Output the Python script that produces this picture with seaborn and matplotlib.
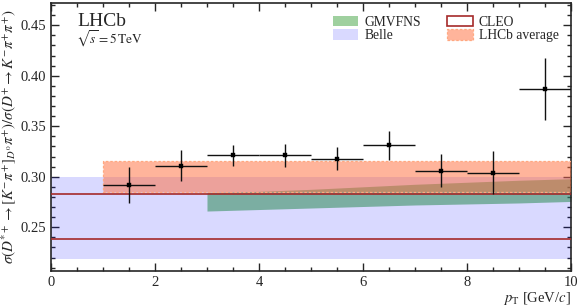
import matplotlib
matplotlib.use("Agg")
import matplotlib.pyplot as plt
import matplotlib.patches as mpatches
from matplotlib.ticker import MultipleLocator
import numpy as np
import pandas as pd
import seaborn as sns

# LHCb measurement, pT bins of 1 GeV/c
pt_lo = [1, 2, 3, 4, 5, 6, 7, 8, 9]
pt_hi = [2, 3, 4, 5, 6, 7, 8, 9, 10]
ratio = [0.292, 0.311, 0.321, 0.321, 0.318, 0.331, 0.306, 0.304, 0.387]
ratio_err = [0.018, 0.015, 0.010, 0.011, 0.011, 0.014, 0.016, 0.021, 0.031]

# GMVFNS prediction band
gm_pt = [3, 4, 5, 6, 7, 8, 9, 10]
gm_lo = [0.266, 0.2675, 0.269, 0.2705, 0.272, 0.273, 0.274, 0.2755]
gm_hi = [0.2845, 0.2855, 0.2875, 0.290, 0.2925, 0.2945, 0.2965, 0.298]

# other measurements
belle = (0.219, 0.300)
cleo = (0.2384, 0.2828)
lhcb_avg = (0.2848, 0.3159)

df = pd.DataFrame({'pt': [(a + b) / 2 for a, b in zip(pt_lo, pt_hi)],
                   'ratio': ratio, 'err': ratio_err})

sns.set_theme(style='ticks')
plt.rcParams['font.family'] = ['Liberation Serif', 'DejaVu Serif']
plt.rcParams['mathtext.fontset'] = 'stix'
plt.rcParams['xtick.direction'] = 'in'
plt.rcParams['ytick.direction'] = 'in'

fig = plt.figure(figsize=(5.82, 3.08), dpi=100)
ax = fig.add_axes([0.0876, 0.12, 0.8935, 0.869])

avg_face = (1.0, 0.42, 0.22, 0.5)
avg_edge = '#ffa880'

# Belle
ax.fill_between([0, 10], belle[0], belle[1], color='blue', alpha=0.15, lw=0, zorder=1)
# GMVFNS
ax.fill_between(gm_pt, gm_lo, gm_hi, color='#2e8b57', alpha=0.55, lw=0, zorder=2)
# LHCb average
ax.fill_between([1, 10], lhcb_avg[0], lhcb_avg[1], facecolor=avg_face,
                edgecolor=avg_edge, linestyle=(0, (2, 1.5)), lw=0.9, zorder=3)
# CLEO
ax.hlines(list(cleo), 0, 10, color='#a52a2a', lw=1.2, zorder=4)

ax.errorbar(df['pt'], df['ratio'], xerr=0.5, yerr=df['err'], fmt='none',
            ecolor='#111111', elinewidth=1.0, capsize=0, zorder=5)
sns.scatterplot(data=df, x='pt', y='ratio', ax=ax, color='black', marker='s',
                s=12, edgecolor='black', zorder=6, legend=False)

ax.set_xlim(0, 10)
ax.set_ylim(0.2066, 0.4716)
ax.xaxis.set_major_locator(MultipleLocator(2))
ax.xaxis.set_minor_locator(MultipleLocator(0.5))
ax.yaxis.set_major_locator(MultipleLocator(0.05))
ax.yaxis.set_minor_locator(MultipleLocator(0.01))
ax.yaxis.set_major_formatter(matplotlib.ticker.FormatStrFormatter('%.2f'))
ax.tick_params(which='both', top=True, right=True, labelsize=10.5)
ax.tick_params(which='major', length=6, width=1)
ax.tick_params(which='minor', length=3, width=1)
for s in ax.spines.values():
    s.set_linewidth(1.2)

ax.set_xlabel(r'$p_{\rm T}$ [GeV/$c$]', fontsize=10.5, loc='right', labelpad=1)
ax.set_ylabel(r'$\sigma(D^{*+}\to[K^{-}\pi^{+}]_{D^0}\pi^{+})/\sigma(D^{+}\to K^{-}\pi^{+}\pi^{+})$',
              fontsize=10.8, labelpad=2)

ax.text(0.05, 0.965, 'LHCb', transform=ax.transAxes, fontsize=14, va='top')
ax.text(0.048, 0.905, r'$\sqrt{s}=5\,\mathrm{TeV}$', transform=ax.transAxes, fontsize=9.5, va='top')

handles = [
    mpatches.Patch(facecolor='#9fd09f', lw=0, label='GMVFNS'),
    mpatches.Patch(facecolor='blue', alpha=0.15, lw=0, label='Belle'),
    mpatches.Patch(facecolor='none', edgecolor='#a52a2a', lw=1.2, label='CLEO'),
    mpatches.Patch(facecolor=avg_face, edgecolor=avg_edge, linestyle=(0, (2, 1.5)), lw=0.9,
                   label='LHCb average'),
]
ax.legend(handles=handles, ncol=2, loc='upper right', bbox_to_anchor=(0.995, 0.99),
          frameon=False, fontsize=9.8, handlelength=1.9, handleheight=0.8,
          columnspacing=1.9, labelspacing=0.05, handletextpad=0.45, borderpad=0.2)

fig.savefig('out.png', dpi=100)
